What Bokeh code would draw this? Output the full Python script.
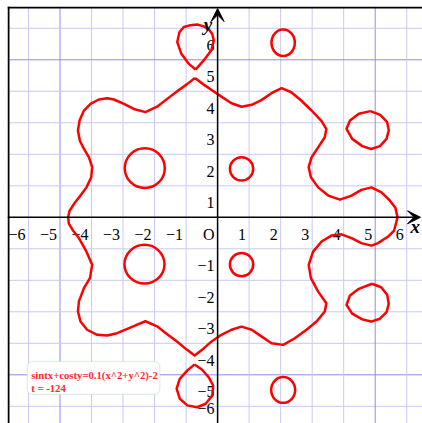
from bokeh.plotting import figure
from bokeh.models import Span, Arrow, VeeHead, BoxAnnotation, Label, ColumnDataSource
from bokeh.core.properties import value
from bokeh.embed import file_html
from bokeh.resources import INLINE

# ---------------- data ----------------
tick_values = [-6, -5, -4, -3, -2, -1, 1, 2, 3, 4, 5, 6]
major_ticks = [-5, 5]
tick_texts = ["\u22126", "\u22125", "\u22124", "\u22123", "\u22122", "\u22121",
              "1", "2", "3", "4", "5", "6"]
origin_text = "O"

# main closed curve
curve_x = [-0.72, -0.45, -0.19, 0.12, 0.44, 0.76, 1.08, 1.39, 1.71, 2.03, 2.34, 2.66,
           2.98, 3.30, 3.45, 3.40, 3.19, 2.98, 2.89, 2.96, 3.19, 3.51, 3.88, 4.25,
           4.56, 4.88, 5.20, 5.45, 5.64, 5.71, 5.60, 5.41, 5.09, 4.88, 4.56, 4.25,
           3.93, 3.61, 3.30, 3.03, 2.89, 2.96, 3.19, 3.45, 3.40, 3.14, 2.82, 2.45,
           2.08, 1.71, 1.39, 1.08, 0.76, 0.44, 0.12, -0.19, -0.45, -0.73, -0.98,
           -1.28, -1.60, -1.92, -2.29, -2.55, -2.81, -3.19, -3.50, -3.82, -4.14,
           -4.35, -4.43, -4.40, -4.24, -4.05, -3.98, -4.16, -4.40, -4.60, -4.72,
           -4.74, -4.70, -4.56, -4.35, -4.16, -4.01, -3.98, -4.08, -4.24, -4.37,
           -4.43, -4.38, -4.24, -4.03, -3.77, -3.50, -3.29, -2.97, -2.66, -2.29,
           -1.92, -1.60, -1.28, -0.98, -0.72]
curve_y = [4.42, 4.22, 4.04, 3.83, 3.62, 3.51, 3.57, 3.72, 3.94, 4.10, 3.97, 3.70,
           3.39, 3.05, 2.80, 2.54, 2.22, 1.90, 1.59, 1.27, 0.95, 0.69, 0.56, 0.69,
           0.87, 0.95, 0.79, 0.55, 0.30, 0.00, -0.42, -0.61, -0.82, -0.90, -0.82,
           -0.66, -0.54, -0.58, -0.77, -1.09, -1.51, -1.93, -2.36, -2.73, -2.99,
           -3.31, -3.57, -3.84, -4.05, -4.00, -3.78, -3.57, -3.47, -3.57, -3.73,
           -3.94, -4.17, -4.39, -4.20, -3.95, -3.71, -3.46, -3.30, -3.41, -3.52,
           -3.68, -3.75, -3.73, -3.57, -3.31, -2.99, -2.67, -2.25, -1.93, -1.51,
           -1.09, -0.66, -0.40, -0.20, 0.00, 0.20, 0.42, 0.69, 0.95, 1.27, 1.59,
           1.90, 2.17, 2.43, 2.75, 3.07, 3.39, 3.60, 3.74, 3.78, 3.74, 3.60, 3.44,
           3.34, 3.51, 3.76, 4.00, 4.22, 4.42]

# egg-shaped small loops
loop_a_x = [-0.70, -0.44, -0.20, -0.12, -0.17, -0.28, -0.44, -0.65, -0.86, -1.07,
            -1.21, -1.28, -1.15, -0.91, -0.70]
loop_a_y = [4.69, 4.98, 5.30, 5.61, 5.82, 5.97, 6.06, 6.12, 6.10, 6.04, 5.88, 5.56,
            5.19, 4.87, 4.69]
loop_j_x = [-0.73, -0.49, -0.28, -0.14, -0.17, -0.38, -0.65, -0.96, -1.20, -1.30,
            -1.20, -0.96, -0.73]
loop_j_y = [-4.67, -4.84, -5.08, -5.34, -5.66, -5.92, -6.03, -5.97, -5.76, -5.44,
            -5.13, -4.86, -4.67]
loop_e_x = [4.85, 5.16, 5.38, 5.43, 5.36, 5.15, 4.87, 4.59, 4.27, 4.09, 4.20, 4.48, 4.85]
loop_e_y = [3.37, 3.25, 3.02, 2.76, 2.49, 2.26, 2.17, 2.26, 2.49, 2.81, 3.07, 3.29, 3.37]
loop_i_x = [4.90, 5.19, 5.38, 5.43, 5.36, 5.15, 4.87, 4.59, 4.27, 4.09, 4.20, 4.48, 4.90]
loop_i_y = [-2.11, -2.22, -2.46, -2.75, -3.01, -3.22, -3.31, -3.24, -3.06, -2.78,
            -2.48, -2.27, -2.11]

# round small loops: centre and size
oval_x = [2.08, 2.08, -2.31, -2.32, 0.76, 0.76]
oval_y = [5.54, -5.48, 1.56, -1.49, 1.54, -1.50]
oval_w = [0.74, 0.76, 1.27, 1.27, 0.74, 0.74]
oval_h = [0.84, 0.82, 1.26, 1.23, 0.74, 0.74]

equation_text = "sintx+costy=0.1(x^2+y^2)-2"
t_text = "t = -124"

# ---------------- figure ----------------
X0, X1 = -6.6656, 6.5006
Y0, Y1 = -6.5460, 6.6921
PX = 1 / 31.52   # one pixel in x data units
PY = 1 / 31.5    # one pixel in y data units
p = figure(width=422, height=423, x_range=(X0, X1), y_range=(Y0, Y1),
           x_axis_type=None, y_axis_type=None, toolbar_location=None,
           output_backend="svg", title=None,
           min_border_left=7, min_border_top=6, min_border_right=0, min_border_bottom=0,
           border_fill_color="white", background_fill_color="white",
           outline_line_color=None)

LIGHT = "#c9c9f3"
DARK = "#8e8ee6"
for v in tick_values:
    col = DARK if v in major_ticks else LIGHT
    p.add_layout(Span(location=v, dimension="height", line_color=col,
                      line_width=1, level="underlay"))
    p.add_layout(Span(location=v, dimension="width", line_color=col,
                      line_width=1, level="underlay"))

# frame border (left and top edges, as seen in the cropped original)
p.add_layout(Span(location=X0 + PX, dimension="height", line_color="black", line_width=2))
p.add_layout(Span(location=Y1 - PY, dimension="width", line_color="black", line_width=2))

font = value("Liberation Serif")
x_off = [17] * len(tick_values)
y_off = [2 if v == -6 else 17 for v in tick_values]
xs = ColumnDataSource(dict(x=tick_values, y=[0] * len(tick_values), t=tick_texts, o=x_off))
ys = ColumnDataSource(dict(x=[0] * len(tick_values), y=tick_values, t=tick_texts, o=y_off))
p.text(x="x", y="y", text="t", source=xs, text_font=font, text_font_size="16px",
       text_align="right", text_baseline="alphabetic", x_offset=-3, y_offset="o",
       text_color="black")
p.text(x="x", y="y", text="t", source=ys, text_font=font, text_font_size="16px",
       text_align="right", text_baseline="alphabetic", x_offset=-3, y_offset="o",
       text_color="black")
p.text(x=[0], y=[0], text=[origin_text], text_font=font, text_font_size="16px",
       text_align="right", text_baseline="alphabetic", x_offset=-3, y_offset=17,
       text_color="black")

red = "#ff0000"
lw = 2.5
p.line(curve_x, curve_y, line_color=red, line_width=lw, line_join="round")
for lx, ly in [(loop_a_x, loop_a_y), (loop_j_x, loop_j_y),
               (loop_e_x, loop_e_y), (loop_i_x, loop_i_y)]:
    p.line(lx, ly, line_color=red, line_width=lw, line_join="round")
p.ellipse(x=oval_x, y=oval_y, width=oval_w, height=oval_h, fill_color=None,
          line_color=red, line_width=lw)

# axes with arrows
p.add_layout(Arrow(end=VeeHead(size=13, fill_color="black", line_color="black", line_width=1),
                   x_start=X0, y_start=0, x_end=6.437, y_end=0,
                   line_color="black", line_width=1.5))
p.add_layout(Arrow(end=VeeHead(size=13, fill_color="black", line_color="black", line_width=1),
                   x_start=0, y_start=Y0, x_end=0, y_end=Y1 - 2 * PY,
                   line_color="black", line_width=1.5))

p.add_layout(Label(x=-0.17, y=6.13, text="y", text_font="Liberation Serif",
                   text_font_style="bold italic", text_font_size="19px",
                   text_align="right", text_baseline="alphabetic", text_color="black"))
p.add_layout(Label(x=6.12, y=-0.29, text="x", text_font="Liberation Serif",
                   text_font_style="bold italic", text_font_size="19px",
                   text_align="left", text_baseline="alphabetic", text_color="black"))

# info box
p.add_layout(BoxAnnotation(left=-6.04, right=-1.834, top=-4.578, bottom=-5.616,
                           fill_color="white", fill_alpha=1.0, line_color="#a6d3a6",
                           line_width=1.5, border_radius=5))
p.add_layout(Label(x=-5.914, y=-5.0, text=equation_text, text_font="Liberation Serif",
                   text_font_style="bold", text_font_size="10.7px", text_color="#ff2a2a",
                   text_baseline="alphabetic"))
p.add_layout(Label(x=-5.914, y=-5.413, text=t_text, text_font="Liberation Serif",
                   text_font_style="bold", text_font_size="10.7px", text_color="#ff2a2a",
                   text_baseline="alphabetic"))

open("out.html", "w").write(file_html(p, INLINE))
